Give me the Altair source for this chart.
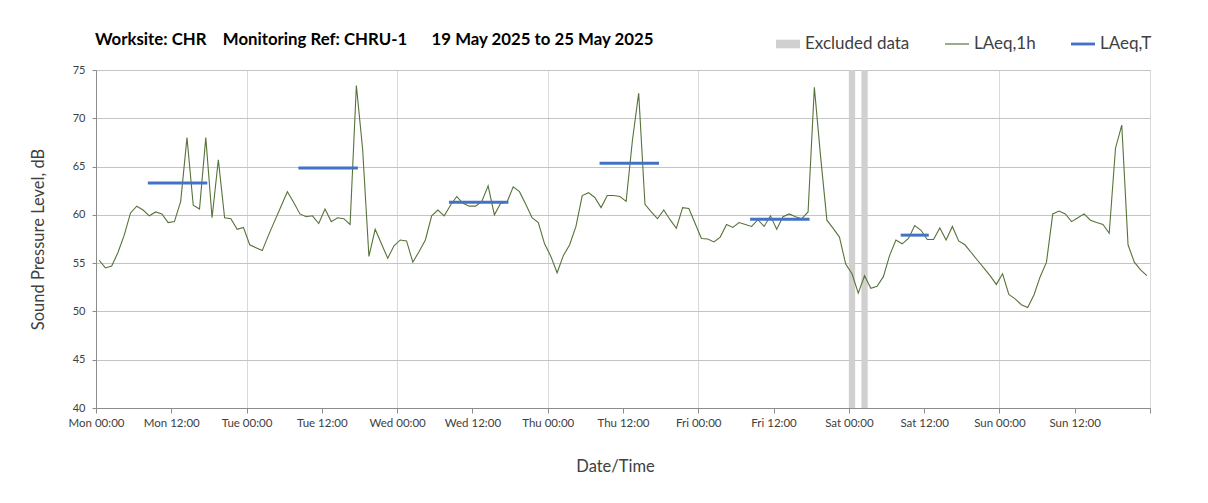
import altair as alt
import pandas as pd

# ---------------- data ----------------
tick_labels = ["Mon 00:00", "Mon 12:00", "Tue 00:00", "Tue 12:00", "Wed 00:00",
               "Wed 12:00", "Thu 00:00", "Thu 12:00", "Fri 00:00", "Fri 12:00",
               "Sat 00:00", "Sat 12:00", "Sun 00:00", "Sun 12:00", ""]

# hourly LAeq,1h values, Mon 00:00 .. Sun 23:00 (168 hours)
laeq_mon = [55.3, 54.5, 54.7, 56.1, 57.9, 60.2, 60.9, 60.5, 59.9, 60.3, 60.1, 59.2,
            59.3, 61.4, 68.0, 61.0, 60.6, 68.0, 59.7, 65.7, 59.7, 59.6, 58.5, 58.7]
laeq_tue = [56.9, 56.6, 56.3, 57.9, 59.4, 60.9, 62.4, 61.3, 60.1, 59.8, 59.9, 59.1,
            60.6, 59.3, 59.7, 59.6, 59.0, 73.4, 66.8, 55.7, 58.5, 57.0, 55.5, 56.8]
laeq_wed = [57.4, 57.3, 55.1, 56.2, 57.4, 59.9, 60.5, 59.9, 61.0, 61.9, 61.2, 60.9,
            60.9, 61.4, 63.0, 60.0, 61.2, 61.3, 62.9, 62.4, 61.1, 59.7, 59.2, 57.0]
laeq_thu = [55.7, 54.0, 55.8, 56.9, 58.8, 62.0, 62.3, 61.8, 60.75, 62.0, 62.0, 61.9,
            61.4, 67.7, 72.6, 61.1, 60.3, 59.6, 60.5, 59.5, 58.6, 60.75, 60.65, 59.1]
laeq_fri = [57.55, 57.5, 57.2, 57.7, 59.0, 58.7, 59.2, 59.0, 58.8, 59.5, 58.8, 59.9,
            58.5, 59.8, 60.1, 59.8, 59.6, 60.3, 73.2, 66.0, 59.45, 58.6, 57.7, 54.9]
laeq_sat = [53.9, 51.9, 53.7, 52.4, 52.6, 53.6, 55.8, 57.4, 57.0, 57.55, 58.9, 58.4,
            57.45, 57.45, 58.65, 57.4, 58.8, 57.3, 56.9, 56.1, 55.3, 54.5, 53.7, 52.8]
laeq_sun = [53.9, 51.75, 51.3, 50.7, 50.4, 51.7, 53.6, 55.1, 60.1, 60.4, 60.1, 59.3,
            59.7, 60.1, 59.45, 59.2, 59.0, 58.1, 66.9, 69.3, 56.9, 55.1, 54.3, 53.7]

# LAeq,T periods (first and last hour of each period)
period_start_hour = [8, 32, 56, 80, 104, 128]
period_end_hour = [17, 41, 65, 89, 113, 132]
laeq_t = [63.3, 64.85, 61.3, 65.35, 59.55, 57.9]

# excluded data (hour intervals)
excluded_start_hour = [120, 122]
excluded_end_hour = [121, 123]

legend_names = ["Excluded data", "LAeq,1h", "LAeq,T"]
legend_colors = ["#d0d0d0", "#56733a", "#4472c4"]
legend_shapes = ["M-1,-0.36L1,-0.36L1,0.36L-1,0.36Z",
                 "M-1,-0.05L1,-0.05L1,0.05L-1,0.05Z",
                 "M-1,-0.12L1,-0.12L1,0.12L-1,0.12Z"]

# ---------------- tables ----------------
laeq_1h = laeq_mon + laeq_tue + laeq_wed + laeq_thu + laeq_fri + laeq_sat + laeq_sun
hourly = pd.DataFrame({"hour": list(range(len(laeq_1h))), "laeq": laeq_1h})
periods = pd.DataFrame({"start": period_start_hour, "end": period_end_hour, "laeq": laeq_t})
excluded = pd.DataFrame({"start": excluded_start_hour, "end": excluded_end_hour})
legend_df = pd.DataFrame({"series": legend_names})

FONT = "Lato"
TXT = "#404040"

label_array = "[" + ",".join("'" + s + "'" for s in tick_labels) + "]"

x_scale = alt.Scale(domain=[0, 168], nice=False, zero=False)
y_scale = alt.Scale(domain=[40, 75], nice=False, zero=False)

x_axis = alt.Axis(
    values=list(range(0, 169, 12)),
    labelExpr=label_array + "[round(datum.value / 12)]",
    labelFlush=False, labelOverlap=False, labelAngle=0,
    grid=True, gridColor="#d9d9d9",
    gridOpacity=alt.condition("datum.value % 24 == 0", alt.value(1), alt.value(0)),
    domainColor="#8c8c8c", tickColor="#8c8c8c", tickSize=5,
    labelFont=FONT, labelFontSize=11.5, labelColor=TXT, labelPadding=4,
    titleFont=FONT, titleFontSize=16.5, titleFontWeight="normal", titleColor=TXT,
    titlePadding=30, titleX=519,
)
y_axis = alt.Axis(
    values=list(range(40, 76, 5)),
    grid=True, gridColor="#c4c4c4",
    domainColor="#8c8c8c", tickColor="#8c8c8c", tickSize=4,
    labelFont=FONT, labelFontSize=11, labelColor=TXT, labelPadding=7,
    titleFont=FONT, titleFontSize=16.5, titleFontWeight="normal", titleColor=TXT,
    titlePadding=26,
)

X_TITLE = "Date/Time"
Y_TITLE = "Sound Pressure Level, dB"

excl_layer = alt.Chart(excluded).mark_rect(color="#d0d0d0").encode(
    x=alt.X("start:Q", scale=x_scale, axis=x_axis, title=X_TITLE),
    x2="end:Q",
)

line_layer = alt.Chart(hourly).transform_calculate(
    t="datum.hour + 0.5"
).mark_line(color="#56733a", strokeWidth=1.1).encode(
    x=alt.X("t:Q", scale=x_scale, axis=x_axis, title=X_TITLE),
    y=alt.Y("laeq:Q", scale=y_scale, axis=y_axis, title=Y_TITLE),
)

period_layer = alt.Chart(periods).transform_calculate(
    t0="datum.start + 0.5", t1="datum.end + 0.5"
).mark_rule(color="#4472c4", strokeWidth=3, strokeCap="square").encode(
    x=alt.X("t0:Q", scale=x_scale, axis=x_axis, title=X_TITLE),
    x2="t1:Q",
    y=alt.Y("laeq:Q", scale=y_scale, axis=y_axis, title=Y_TITLE),
)

legend_cfg = dict(
    title=None, orient="none", legendX=680, legendY=-38, direction="horizontal",
    symbolSize=576, symbolStrokeWidth=0, labelFont=FONT, labelFontSize=17,
    labelColor=TXT, columnPadding=35, labelOffset=5, padding=0,
)
legend_layer = alt.Chart(legend_df).transform_filter("false").mark_point(
    filled=True, opacity=1
).encode(
    color=alt.Color("series:N", scale=alt.Scale(domain=legend_names, range=legend_colors),
                    legend=alt.Legend(**legend_cfg)),
    shape=alt.Shape("series:N", scale=alt.Scale(domain=legend_names, range=legend_shapes),
                    legend=alt.Legend(**legend_cfg)),
)

title_text = ("Worksite: CHR\u00a0\u00a0\u00a0\u00a0Monitoring Ref: CHRU-1"
              "\u00a0\u00a0\u00a0\u00a0\u00a0\u00a019 May 2025 to 25 May 2025")

chart = alt.layer(excl_layer, line_layer, period_layer, legend_layer).properties(
    width=1054, height=338,
    padding={"left": 88, "top": 62, "right": 50, "bottom": 87},
    autosize=alt.AutoSizeParams(type="none"),
    title=alt.TitleParams(title_text, anchor="start", frame="group", font=FONT,
                          fontSize=16.8, fontWeight="bold", color="#000000",
                          offset=10, dx=-1, dy=27),
).configure_view(stroke=None).configure(background="white")

chart.save("out.html", embed_options={"renderer": "svg", "actions": False})
